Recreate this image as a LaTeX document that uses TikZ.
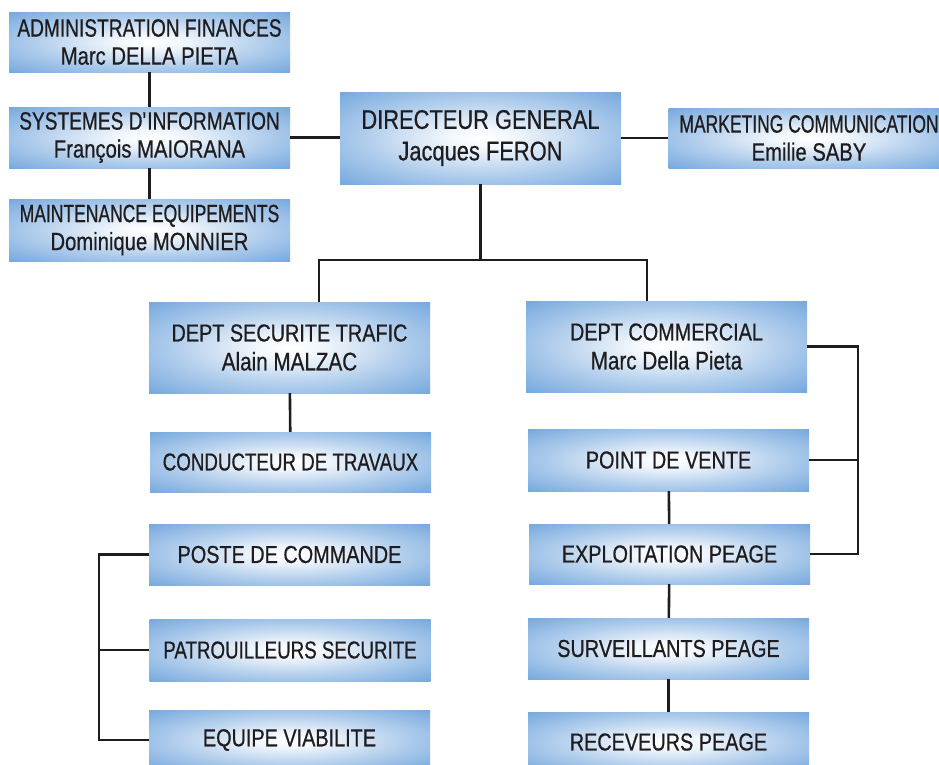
\documentclass[tikz,border=0pt]{standalone}
\usepackage{fontspec}
\setmainfont{Liberation Sans}[FakeStretch=0.81, FakeBold=0.6]
\newfontfamily\narrowfont{Liberation Sans}[FakeStretch=0.765, FakeBold=0.6]
\newfontfamily\tightfont{Liberation Sans}[FakeStretch=0.70, FakeBold=0.6]
\usetikzlibrary{calc}

\definecolor{boxmid}{RGB}{86,148,214}
\definecolor{boxcorner}{RGB}{44,124,200}
\definecolor{inkgray}{RGB}{30,28,30}
\pgfdeclareradialshading{boxglow}{\pgfpoint{0bp}{0bp}}{color(0bp)=(white); color(6bp)=(white!92!boxmid); color(20bp)=(white!55!boxmid); color(35bp)=(white!20!boxmid); color(50bp)=(boxmid); color(71bp)=(boxcorner)}

\tikzset{
  unit/.style={rectangle, shade, shading=boxglow, minimum width=281pt,
    minimum height=60pt, inner sep=0pt, align=center, text=inkgray,
    font=\fontsize{25}{28}\selectfont},
  single/.style={unit, font=\fontsize{24.5}{28}\selectfont},
  dept/.style={unit, minimum height=91pt, font=\fontsize{24.5}{29}\selectfont},
  head/.style={unit, minimum height=92pt, font=\fontsize{27}{31.5}\selectfont},
  link/.style={draw=inkgray, line width=2.6pt}
}

\begin{document}
\begin{tikzpicture}[x=1pt,y=-1pt]

\clip (0,0) rectangle (939,764);

\node (admin)   at (149.5,42)    [unit] {{\narrowfont ADMINISTRATION FINANCES}\\Marc DELLA PIETA};
\node (sysinfo) at (149.5,137.5) [unit, minimum height=61pt] {{\narrowfont SYSTEMES D\textquotesingle INFORMATION}\\François MAIORANA};
\node (maint)   at (149.5,230)   [unit, minimum height=62pt] {{\tightfont MAINTENANCE EQUIPEMENTS}\\Dominique MONNIER};

\node (dg)      at (480.5,138)   [head] {DIRECTEUR GENERAL\\Jacques FERON};
\node (mkt)     at (809,138)     [unit] {{\tightfont MARKETING COMMUNICATION}\\Emilie SABY};

\node (secu)    at (289.5,347.5) [dept] {DEPT SECURITE TRAFIC\\{\fontsize{25.5}{29}\selectfont Alain MALZAC}};
\node (cond)    at (290.5,462)   [single] {\narrowfont CONDUCTEUR DE TRAVAUX};
\node (poste)   at (289.5,554.5) [single, minimum height=61pt] {POSTE DE COMMANDE};
\node (patrol)  at (290,650)     [single, minimum height=62pt] {\narrowfont PATROUILLEURS SECURITE};
\node (equipe)  at (289.5,740)   [single] {EQUIPE VIABILITE};

\node (comm)    at (666.5,346.5) [dept] {DEPT COMMERCIAL\\{\fontsize{25.5}{29}\selectfont Marc Della Pieta}};
\node (pdv)     at (668.5,460)   [single, minimum height=62pt] {POINT DE VENTE};
\node (exploit) at (669.5,554)   [single] {EXPLOITATION PEAGE};
\node (surv)    at (668.5,648.5) [single, minimum height=61pt] {SURVEILLANTS PEAGE};
\node (recev)   at (668.5,742)   [single] {RECEVEURS PEAGE};

\coordinate (split) at (480.5,260);
\coordinate (rbar)  at (858,0);
\coordinate (lbar)  at (99,0);

\draw [link] (admin) -- (sysinfo);
\draw [link] (sysinfo) -- (maint);
\draw [link] (sysinfo.east) -- (sysinfo.east -| dg.west);
\draw [link] (dg.east) -- (dg.east -| mkt.west);

\draw [link] (dg.south) -- (split);
\draw [link] (split) -| ($(secu.north)+(29.5,0)$);
\draw [link] (split) -| ($(comm.north)+(-19.5,0)$);
\draw [link] (secu) -- (cond);

\draw [link] (comm.east) -- (comm.east -| rbar) |- (exploit.east);
\draw [link] (pdv.east) -- (pdv.east -| rbar);
\draw [link] (pdv) -- (exploit);
\draw [link] (exploit) -- (surv);
\draw [link] (surv) -- (recev);

\draw [link] (poste.west) -- (poste.west -| lbar) |- (equipe.west);
\draw [link] (patrol.west) -- (patrol.west -| lbar);

\end{tikzpicture}
\end{document}
